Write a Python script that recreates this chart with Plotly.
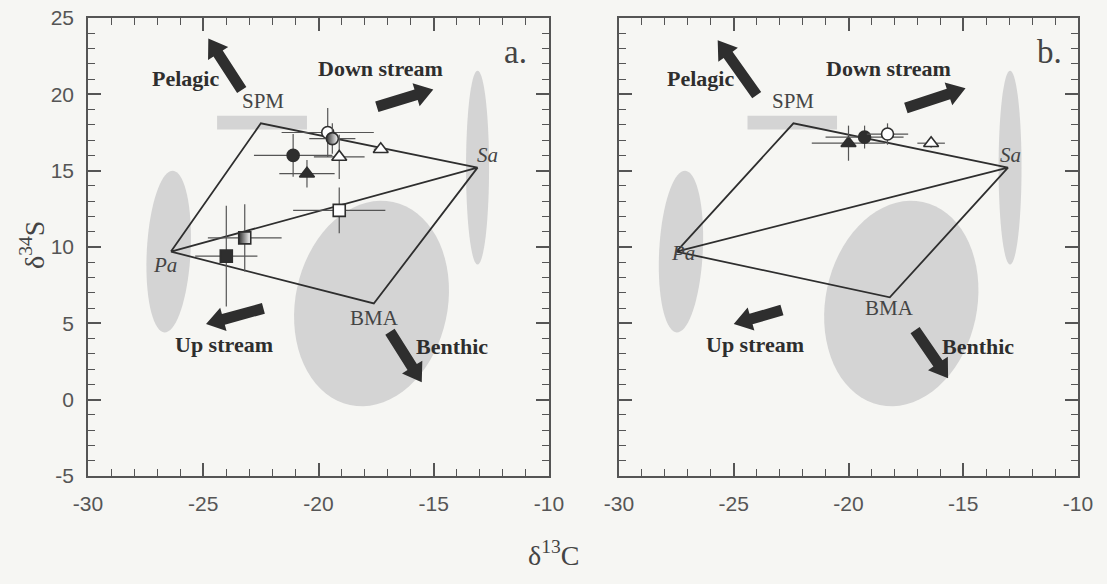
import math
import plotly.graph_objects as go

# ---------------- data ----------------
x_ticks = [-30, -25, -20, -15, -10]
x_ticklabels = ["-30", "-25", "-20", "-15", "-10"]
y_ticks = [-5, 0, 5, 10, 15, 20, 25]
y_ticklabels = ["-5", "0", "5", "10", "15", "20", "25"]

# end members (mixing polygon vertices): SPM, Sa, BMA, Pa
em_names = ["SPM", "Sa", "BMA", "Pa"]
em_a_x = [-22.5, -13.1, -17.6, -26.4]
em_a_y = [18.1, 15.2, 6.3, 9.7]
em_b_x = [-22.4, -13.05, -18.2, -27.5]
em_b_y = [18.1, 15.2, 6.7, 9.7]

# panel a samples
a_kind = ["open_circle", "half_circle", "filled_circle", "open_triangle", "filled_triangle",
          "open_triangle", "open_square", "half_square", "filled_square"]
a_x = [-19.6, -19.4, -21.1, -19.1, -20.5, -17.3, -19.1, -23.2, -24.0]
a_y = [17.5, 17.1, 16.0, 15.9, 14.8, 16.4, 12.4, 10.6, 9.4]
a_xerr = [2.0, 1.0, 1.7, 1.1, 1.2, 0.3, 2.0, 1.6, 1.35]
a_yerr = [1.6, 1.0, 1.4, 1.45, 0.9, 0.2, 1.5, 2.2, 3.3]

# panel b samples
b_kind = ["filled_triangle", "filled_circle", "open_circle", "open_triangle"]
b_x = [-20.0, -19.3, -18.3, -16.4]
b_y = [16.8, 17.2, 17.4, 16.8]
b_xerr = [1.6, 1.7, 0.9, 0.6]
b_yerr = [1.15, 0.75, 0.7, 0.3]

# source regions (grey areas): centre x, centre y, half-width (x units), half-height (y units), tilt deg
area_names = ["Pa", "BMA", "Sa"]
area_a_cx = [-26.5, -17.7, -13.1]
area_a_cy = [9.7, 6.3, 15.2]
area_b_cx = [-27.3, -17.7, -12.96]
area_b_cy = [9.7, 6.3, 15.2]
area_rx = [0.95, 3.3, 0.5]
area_ry = [5.3, 6.8, 6.35]
area_tilt = [-3, -12, 0]
spm_box_x = [-24.4, -20.5]
spm_box_y = [17.7, 18.6]

# direction arrows: label, tail (x,y), tip (x,y)
arrow_names = ["Pelagic", "Down stream", "Up stream", "Benthic"]
arr_a_tail_x = [-23.33, -17.47, -22.39, -16.9]
arr_a_tail_y = [20.28, 19.18, 5.98, 4.45]
arr_a_tip_x = [-24.78, -15.02, -24.88, -15.52]
arr_a_tip_y = [23.66, 20.32, 4.95, 1.14]
arr_b_tail_x = [-24.0, -17.5, -22.9, -17.1]
arr_b_tail_y = [19.95, 19.1, 5.87, 4.56]
arr_b_tip_x = [-25.7, -14.9, -25.0, -15.66]
arr_b_tip_y = [23.55, 20.4, 4.95, 1.4]
arr_a_lab_x = [-25.77, -17.31, -24.1, -14.2]
arr_a_lab_y = [21.06, 21.7, 3.64, 3.47]
arr_b_lab_x = [-26.47, -18.24, -24.07, -14.36]
arr_b_lab_y = [21.06, 21.7, 3.64, 3.47]

# end member label positions
em_lab_a_x = [-22.41, -12.65, -17.56, -26.66]
em_lab_a_y = [19.57, 16.0, 5.38, 8.82]
em_lab_b_x = [-22.4, -12.92, -18.2, -27.2]
em_lab_b_y = [19.57, 16.0, 6.0, 9.6]

panel_letters = ["a.", "b."]
letter_x = [-11.44, -11.24]
letter_y = [22.77, 22.77]

# ---------------- styling ----------------
W, H = 1107, 584
DOM_A = [88 / W, 549 / W]
DOM_B = [619 / W, 1078 / W]
DOM_Y = [1 - 476 / H, 1 - 18 / H]
X_RANGE = [-30, -10]
Y_RANGE = [-5, 25]
INK = "#2e2e2e"
AXC = "#555555"
GREY = "#d4d4d4"
BG = "#f6f6f3"
SERIF = "Liberation Serif, Times New Roman, serif"
SANS = "Liberation Sans, Arial, sans-serif"
SHAFT_HW, HEAD_HW, HEAD_LEN = 5.5, 12.0, 18.0  # arrow geometry in pixels

STYLE = {
    "open_circle": dict(symbol="circle", color="white", size=12),
    "half_circle": dict(symbol="circle", color=INK, size=12, grad=True),
    "filled_circle": dict(symbol="circle", color=INK, size=12),
    "open_triangle": dict(symbol="triangle-up", color="white", size=13),
    "filled_triangle": dict(symbol="triangle-up", color=INK, size=13),
    "open_square": dict(symbol="square", color="white", size=12),
    "half_square": dict(symbol="square", color=INK, size=12, grad=True),
    "filled_square": dict(symbol="square", color=INK, size=12),
}

fig = go.Figure()


def to_path(pts):
    return "M " + " L ".join(f"{p[0]:.4f},{p[1]:.4f}" for p in pts) + " Z"


def add_panel(xref, yref, dom, em_x, em_y, kinds, xs, ys, xerr, yerr,
              acx, acy, tail_x, tail_y, tip_x, tip_y, lab_x, lab_y,
              emlx, emly, letter, lx, ly):
    xa = "x" if xref == "x" else "x2"
    ya = "y" if yref == "y" else "y2"
    sx = (dom[1] - dom[0]) * W / (X_RANGE[1] - X_RANGE[0])
    sy = (DOM_Y[1] - DOM_Y[0]) * H / (Y_RANGE[1] - Y_RANGE[0])

    # grey source areas
    for cx, cy, rx, ry, tilt in zip(acx, acy, area_rx, area_ry, area_tilt):
        a_px, b_px = rx * sx, ry * sy
        th = math.radians(tilt)
        pts = []
        for i in range(73):
            t = 2 * math.pi * i / 72
            u, v = a_px * math.cos(t), b_px * math.sin(t)
            X = u * math.cos(th) - v * math.sin(th)
            Y = u * math.sin(th) + v * math.cos(th)
            pts.append((cx + X / sx, cy + Y / sy))
        fig.add_shape(type="path", path=to_path(pts), xref=xref, yref=yref, layer="below",
                      fillcolor=GREY, line=dict(width=0))
    fig.add_shape(type="rect", x0=spm_box_x[0], x1=spm_box_x[1], y0=spm_box_y[0], y1=spm_box_y[1],
                  xref=xref, yref=yref, layer="below", fillcolor=GREY, line=dict(width=0))

    # mixing polygon: Pa-SPM-Sa-BMA-Pa and Pa-Sa
    order = [3, 0, 1, 3, 1, 2, 3]
    fig.add_trace(go.Scatter(x=[em_x[i] for i in order], y=[em_y[i] for i in order],
                             mode="lines", line=dict(color=INK, width=1.8),
                             xaxis=xa, yaxis=ya, showlegend=False, hoverinfo="skip"))

    # samples
    for k, x, y, ex, ey in zip(kinds, xs, ys, xerr, yerr):
        st = STYLE[k]
        marker = dict(symbol=st["symbol"], size=st["size"], color=st["color"],
                      line=dict(color=INK, width=1.6))
        if st.get("grad"):
            marker["color"] = INK
            marker["gradient"] = dict(type="horizontal", color="white")
        fig.add_trace(go.Scatter(
            x=[x], y=[y], mode="markers", marker=marker,
            error_x=dict(type="data", array=[ex], visible=True, width=0, thickness=1.2, color="#555"),
            error_y=dict(type="data", array=[ey], visible=True, width=0, thickness=1.2, color="#555"),
            xaxis=xa, yaxis=ya, showlegend=False))

    # block arrows (built in screen space, converted back to data units)
    for name, tx, ty, hx, hy, lx_, ly_ in zip(arrow_names, tail_x, tail_y, tip_x, tip_y, lab_x, lab_y):
        dx, dy = (hx - tx) * sx, (hy - ty) * sy
        L = math.hypot(dx, dy)
        ux, uy = dx / L, dy / L
        nx, ny = -uy, ux
        bx, by = L - HEAD_LEN, 0.0
        local = [(0, SHAFT_HW), (bx, SHAFT_HW), (bx, HEAD_HW), (L, 0),
                 (bx, -HEAD_HW), (bx, -SHAFT_HW), (0, -SHAFT_HW)]
        pts = [(tx + (a * ux + b * nx) / sx, ty + (a * uy + b * ny) / sy) for a, b in local]
        fig.add_shape(type="path", path=to_path(pts), xref=xref, yref=yref,
                      fillcolor=INK, line=dict(width=0))
        fig.add_annotation(x=lx_, y=ly_, xref=xref, yref=yref, text=f"<b>{name}</b>",
                           showarrow=False, font=dict(family=SERIF, size=22, color=INK))

    # end member labels
    for name, ex_, ey_ in zip(em_names, emlx, emly):
        txt = f"<i>{name}</i>" if name in ("Pa", "Sa") else name
        fig.add_annotation(x=ex_, y=ey_, xref=xref, yref=yref, text=txt, showarrow=False,
                           font=dict(family=SERIF, size=21, color="#444"))

    fig.add_annotation(x=lx, y=ly, xref=xref, yref=yref, text=letter, showarrow=False,
                       font=dict(family=SERIF, size=33, color="#444"))


add_panel("x", "y", DOM_A, em_a_x, em_a_y, a_kind, a_x, a_y, a_xerr, a_yerr,
          area_a_cx, area_a_cy, arr_a_tail_x, arr_a_tail_y, arr_a_tip_x, arr_a_tip_y,
          arr_a_lab_x, arr_a_lab_y, em_lab_a_x, em_lab_a_y, panel_letters[0], letter_x[0], letter_y[0])
add_panel("x2", "y2", DOM_B, em_b_x, em_b_y, b_kind, b_x, b_y, b_xerr, b_yerr,
          area_b_cx, area_b_cy, arr_b_tail_x, arr_b_tail_y, arr_b_tip_x, arr_b_tip_y,
          arr_b_lab_x, arr_b_lab_y, em_lab_b_x, em_lab_b_y, panel_letters[1], letter_x[1], letter_y[1])

axis_common = dict(showgrid=False, zeroline=False, showline=True, linecolor=AXC, linewidth=1.5,
                   mirror="ticks", ticks="inside", ticklen=13, tickwidth=1.5, tickcolor=AXC,
                   minor=dict(dtick=1, ticks="inside", ticklen=7, tickwidth=1.2, tickcolor=AXC),
                   tickfont=dict(family=SANS, size=21, color="#555"), ticklabelstandoff=8,
                   automargin=False)

fig.update_layout(
    width=W, height=H, autosize=False,
    margin=dict(l=0, r=0, t=0, b=0, pad=0),
    paper_bgcolor=BG, plot_bgcolor=BG,
    xaxis=dict(domain=DOM_A, range=X_RANGE, tickvals=x_ticks, ticktext=x_ticklabels,
               anchor="y", **axis_common),
    xaxis2=dict(domain=DOM_B, range=X_RANGE, tickvals=x_ticks, ticktext=x_ticklabels,
                anchor="y2", **axis_common),
    yaxis=dict(domain=DOM_Y, range=Y_RANGE, tickvals=y_ticks, ticktext=y_ticklabels,
               anchor="x", **axis_common),
    yaxis2=dict(domain=DOM_Y, range=Y_RANGE, tickvals=y_ticks, ticktext=y_ticklabels,
                anchor="x2", showticklabels=False, **axis_common),
    showlegend=False,
)

fig.add_annotation(x=32 / W, y=1 - 245 / H, xref="paper", yref="paper", xanchor="center",
                   yanchor="middle", text="δ<sup>34</sup>S", textangle=-90, showarrow=False,
                   font=dict(family=SERIF, size=28, color="#444"))
fig.add_annotation(x=553 / W, y=1 - 553 / H, xref="paper", yref="paper", xanchor="center",
                   yanchor="middle", text="δ<sup>13</sup>C", showarrow=False,
                   font=dict(family=SERIF, size=28, color="#444"))

fig.write_html("out.html", config={"responsive": False, "displayModeBar": False},
               post_script="document.body.style.margin='0';document.body.style.background='%s';" % BG)
